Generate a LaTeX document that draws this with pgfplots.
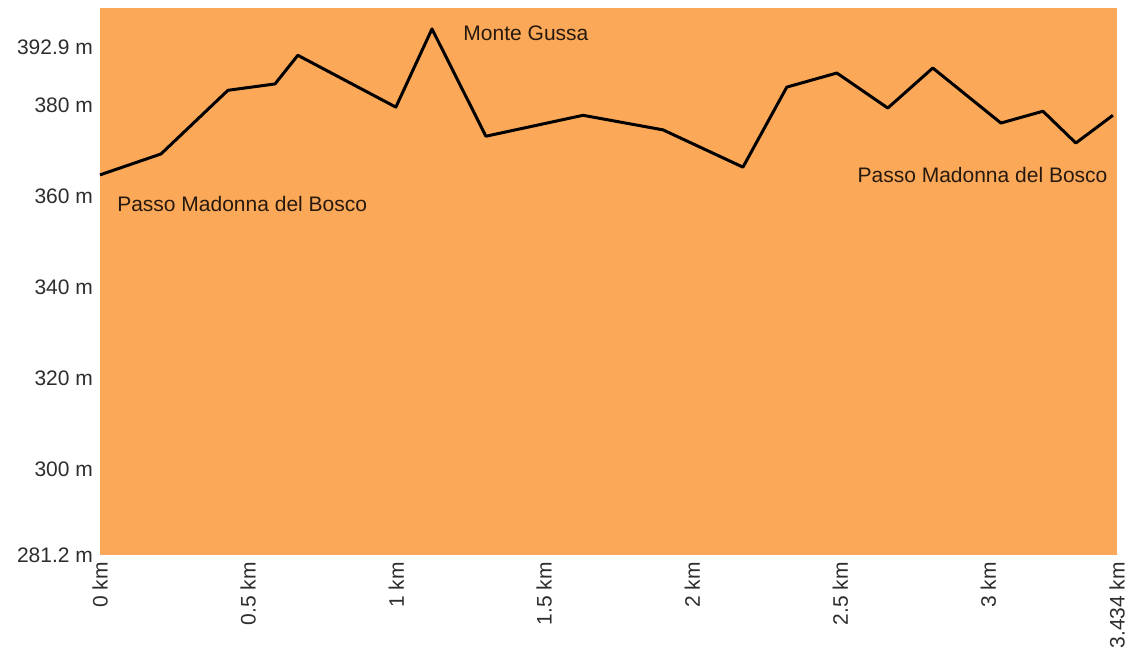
\documentclass[border=0pt]{standalone}
\usepackage{pgfplots}
\pgfplotsset{compat=1.18}
\usepackage{fontspec}
\setmainfont{Liberation Sans}
\definecolor{bgorange}{RGB}{251,169,88}
\definecolor{lbl}{RGB}{45,45,45}
\definecolor{ann}{RGB}{40,25,15}
\begin{document}
\begin{tikzpicture}
\begin{axis}[
  scale only axis, width=508.5pt, height=273.5pt,
  xmin=0, xmax=3.434, ymin=281.2, ymax=401.5,
  axis background/.style={fill=bgorange},
  axis line style={draw=none},
  major tick length=0pt,
  xtick={0,0.5,1,1.5,2,2.5,3,3.434},
  xticklabels={0 km,0.5 km,1 km,1.5 km,2 km,2.5 km,3 km,3.434 km},
  ytick={281.2,300,320,340,360,380,392.9},
  yticklabels={281.2 m,300 m,320 m,340 m,360 m,380 m,392.9 m},
  xticklabel style={rotate=90, anchor=east, font=\fontsize{10.5}{12}\selectfont, text=lbl},
  yticklabel style={font=\fontsize{10.5}{12}\selectfont, text=lbl},
  clip=false,
]
\addplot[black, line width=1.5pt, line join=round] coordinates {
 (0,364.8) (0.206,369.4) (0.432,383.4) (0.591,384.8) (0.668,391.1)
 (0.999,379.7) (1.121,396.9) (1.303,373.3) (1.631,377.9) (1.901,374.7)
 (2.171,366.5) (2.319,384.1) (2.488,387.2) (2.660,379.5) (2.812,388.3)
 (3.042,376.2) (3.184,378.8) (3.295,371.8) (3.420,377.9)
};
\node[anchor=west, inner sep=0, text=ann, font=\fontsize{10.5}{12}\selectfont] at (axis cs:0.057,358.4) {Passo Madonna del Bosco};
\node[anchor=west, inner sep=0, text=ann, font=\fontsize{10.5}{12}\selectfont] at (axis cs:1.226,396.0) {Monte Gussa};
\node[anchor=east, inner sep=0, text=ann, font=\fontsize{10.5}{12}\selectfont] at (axis cs:3.403,364.8) {Passo Madonna del Bosco};
\end{axis}
\pgfresetboundingbox
\path ([xshift=-50pt,yshift=-52.5pt]current axis.south west) rectangle ([xshift=4.5pt,yshift=4pt]current axis.north east);
\end{tikzpicture}
\end{document}
